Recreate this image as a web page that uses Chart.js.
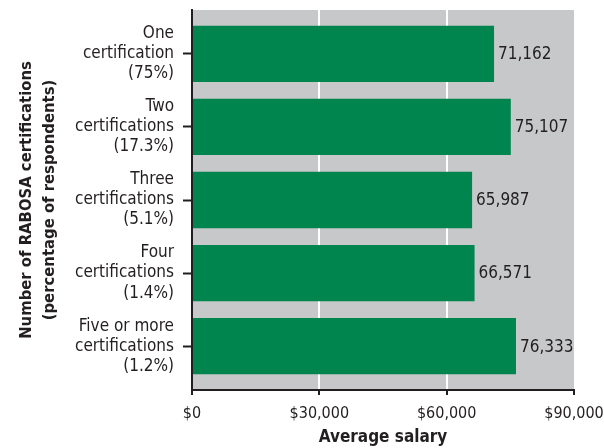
<!DOCTYPE html>
<html>
<head>
<meta charset="utf-8">
<script src="https://cdn.jsdelivr.net/npm/chart.js@4/dist/chart.umd.min.js"></script>
<style>
  html, body { margin: 0; padding: 0; background: #fff; }
  #wrap { width: 604px; height: 448px; }
</style>
</head>
<body>
<div id="wrap"><canvas id="chart"></canvas></div>
<script>
// categories, top to bottom
const categories = [
  ['One', 'certification', '(75%)'],
  ['Two', 'certifications', '(17.3%)'],
  ['Three', 'certifications', '(5.1%)'],
  ['Four', 'certifications', '(1.4%)'],
  ['Five or more', 'certifications', '(1.2%)']
]
const salaries = [71162, 75107, 65987, 66571, 76333]
const xTicks = [0, 30000, 60000, 90000]

const FONT = "'DejaVu Sans Condensed', 'Liberation Sans Narrow', sans-serif"
const INK = '#231f20'
const GREEN = '#00854f'

// gray plot background
const plotBg = {
  id: 'plotBg',
  beforeDraw(chart) {
    const {ctx, chartArea: a} = chart
    ctx.save()
    ctx.fillStyle = '#c7c8ca'
    ctx.fillRect(a.left, a.top, a.right - a.left, a.bottom - a.top)
    ctx.restore()
  }
}

// value labels at the end of each bar
const valueLabels = {
  id: 'valueLabels',
  afterDatasetsDraw(chart) {
    const ctx = chart.ctx
    const meta = chart.getDatasetMeta(0)
    ctx.save()
    ctx.font = '17px ' + FONT
    ctx.fillStyle = INK
    ctx.textAlign = 'left'
    ctx.textBaseline = 'middle'
    meta.data.forEach((bar, i) => {
      ctx.fillText(salaries[i].toLocaleString('en-US'), bar.x + 4, bar.y + 1)
    })
    ctx.restore()
  }
}

new Chart(document.getElementById('chart'), {
  type: 'bar',
  data: {
    datasets: [{
      data: salaries.map((v, i) => ({x: v, y: i})),
      backgroundColor: GREEN,
      borderWidth: 0,
      barPercentage: 0.77,
      categoryPercentage: 1
    }]
  },
  options: {
    indexAxis: 'y',
    responsive: true,
    maintainAspectRatio: false,
    animation: false,
    layout: { padding: { top: 10, right: 0, left: 15, bottom: 0 } },
    plugins: {
      legend: { display: false },
      tooltip: { enabled: false }
    },
    scales: {
      x: {
        type: 'linear',
        min: 0,
        max: 90000,
        afterBuildTicks: s => { s.ticks = xTicks.map(v => ({value: v})) },
        afterFit: s => { s.height = 58; s.paddingRight = 30; s.paddingLeft = 0 },
        border: { display: true, color: INK, width: 2 },
        grid: {
          color: c => (c.tick && (c.tick.value === 0 || c.tick.value === 90000)) ? 'rgba(0,0,0,0)' : '#ffffff',
          lineWidth: 2,
          tickColor: INK,
          tickLength: 5,
          tickWidth: 2
        },
        ticks: {
          color: INK,
          font: { family: FONT, size: 16 },
          padding: 9,
          maxRotation: 0,
          callback: v => '$' + v.toLocaleString('en-US')
        },
        title: {
          display: true,
          text: 'Average salary',
          color: INK,
          font: { family: FONT, size: 17, weight: 'bold' },
          padding: { top: 4, bottom: 0 }
        }
      },
      y: {
        type: 'linear',
        reverse: true,
        offset: false,
        min: -0.6,
        max: 4.6,
        afterBuildTicks: s => { s.ticks = categories.map((_, i) => ({value: i})) },
        afterFit: s => { s.width = 177; s.paddingTop = 0; s.paddingBottom = 0 },
        border: { display: true, color: INK, width: 2 },
        grid: {
          offset: false,
          drawOnChartArea: false,
          drawTicks: true,
          tickColor: INK,
          tickLength: 9,
          tickWidth: 2
        },
        ticks: {
          color: INK,
          font: { family: FONT, size: 17, lineHeight: 1.18 },
          padding: 9,
          callback: v => categories[v]
        },
        title: {
          display: true,
          text: ['Number of RABOSA certifications', '(percentage of respondents)'],
          color: INK,
          font: { family: FONT, size: 16.5, weight: 'bold', lineHeight: 1.4 },
          padding: { top: 0, bottom: 0 }
        }
      }
    }
  },
  plugins: [plotBg, valueLabels]
})
</script>
</body>
</html>
